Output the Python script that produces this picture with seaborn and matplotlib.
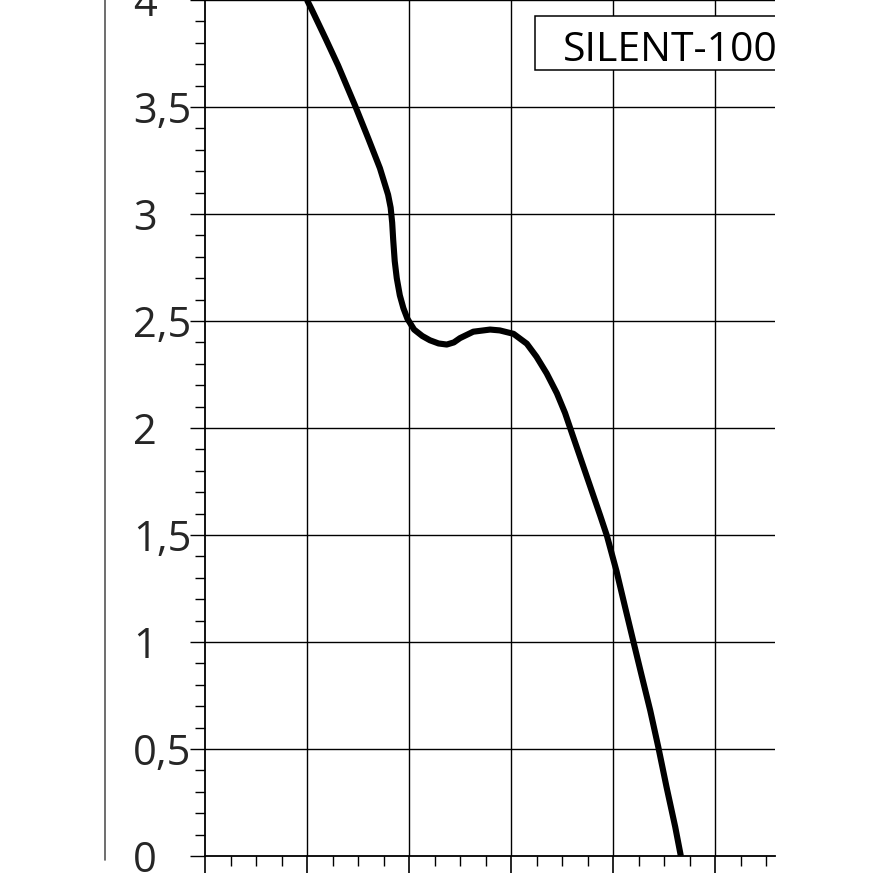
import matplotlib
matplotlib.use("Agg")
import matplotlib.pyplot as plt
import seaborn as sns
import numpy as np
import pandas as pd
from matplotlib.patches import Rectangle
from matplotlib.lines import Line2D
from matplotlib.ticker import MultipleLocator, FixedLocator

# ---- data ----
flow = [20.0, 20.9, 23.7, 26.1, 29.4, 32.0, 34.3, 35.9, 36.4, 36.7, 36.9, 37.2,
        37.6, 38.2, 38.9, 39.7, 41.0, 42.6, 44.1, 45.8, 47.4, 48.8, 50.0, 52.6,
        55.9, 57.8, 60.5, 63.1, 65.0, 67.0, 69.0, 70.6, 71.6, 73.5, 75.5, 77.5,
        78.8, 80.7, 82.4, 84.0, 85.6, 87.3, 88.9, 90.5, 92.2, 93.3]
pressure = [4.00, 3.957, 3.817, 3.694, 3.508, 3.354, 3.214, 3.09, 3.03, 2.96,
            2.88, 2.78, 2.70, 2.62, 2.56, 2.51, 2.46, 2.43, 2.41, 2.395, 2.39,
            2.40, 2.42, 2.45, 2.46, 2.456, 2.44, 2.394, 2.333, 2.255, 2.162,
            2.07, 2.00, 1.868, 1.729, 1.59, 1.497, 1.33, 1.16, 1.002, 0.845,
            0.68, 0.507, 0.322, 0.136, 0.0]
ytick_values = [0, 0.5, 1, 1.5, 2, 2.5, 3, 3.5, 4]
ytick_labels = ["0", "0,5", "1", "1,5", "2", "2,5", "3", "3,5", "4"]
xgrid_values = [0, 20, 40, 60, 80, 100]
legend_label = "SILENT-100"

df = pd.DataFrame({"flow": flow, "pressure": pressure})

sns.set_style("white")
plt.rcParams["font.family"] = ["Open Sans", "DejaVu Sans"]

W = 880
fig = plt.figure(figsize=(8.8, 8.8), dpi=100)
px_per_x = 5.1
px_per_y = 215.5
ax = fig.add_axes([205 / W, 24 / W, 570 / W, 856 / W])

sns.lineplot(data=df, x="flow", y="pressure", sort=False, color="black",
             linewidth=4.4, ax=ax, zorder=5, solid_joinstyle="round",
             solid_capstyle="butt")

ax.set_xlim(0, 570 / px_per_x)
ax.set_ylim(0, 856 / px_per_y)
ax.set_xlabel("")
ax.set_ylabel("")

# grid lines
for v in ytick_values[1:]:
    ax.axhline(v, color="black", lw=1.0, zorder=1)
for v in xgrid_values[1:]:
    ax.axvline(v, color="black", lw=1.0, zorder=1)

for s in ["top", "right"]:
    ax.spines[s].set_visible(False)
for s in ["left", "bottom"]:
    ax.spines[s].set_color("black")
    ax.spines[s].set_linewidth(1.3)

# y ticks
ax.yaxis.set_major_locator(FixedLocator(ytick_values))
ax.yaxis.set_minor_locator(MultipleLocator(0.1))
ax.set_yticks(ytick_values)
ax.set_yticklabels(ytick_labels, fontsize=30, ha="left")
ax.tick_params(axis="y", which="major", direction="out", length=11, width=1.0,
               color="black", pad=41, left=True)
ax.tick_params(axis="y", which="minor", direction="out", length=7, width=1.0,
               color="black", left=True)

# x ticks (no labels)
ax.xaxis.set_major_locator(FixedLocator(xgrid_values))
ax.xaxis.set_minor_locator(MultipleLocator(5))
ax.tick_params(axis="x", which="major", direction="out", length=12, width=1.2,
               color="black", labelbottom=False, bottom=True)
ax.tick_params(axis="x", which="minor", direction="out", length=7, width=1.0,
               color="black", bottom=True)

# legend-like box clipped at the right edge
bx0 = (535 - 205) / px_per_x
by0 = (856 - 64) / px_per_y
bh = 54 / px_per_y
rect = Rectangle((bx0, by0), 200, bh, facecolor="white", edgecolor="black",
                 lw=1.1, zorder=6, clip_on=True)
ax.add_patch(rect)
ax.text((563 - 205) / px_per_x, (856 - 55) / px_per_y, legend_label,
        fontsize=29.5, va="baseline", ha="left", color="black", zorder=7,
        clip_on=True)

# stray vertical line on the far left
fig.add_artist(Line2D([105 / W, 105 / W], [1.0, 1 - 860 / W], color="#555555",
                      lw=1.2))

fig.savefig("out.png", dpi=100, facecolor="white")
